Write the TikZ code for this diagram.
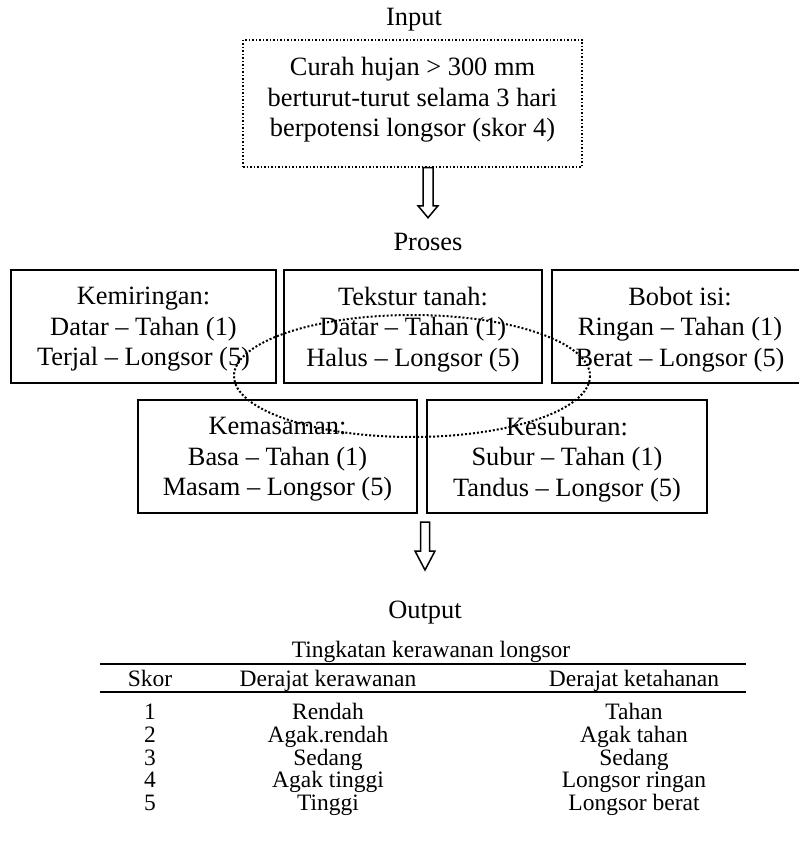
\documentclass[tikz,border=0pt]{standalone}
\usepackage{fontspec}
\setmainfont{Liberation Serif}
\usetikzlibrary{calc}

\begin{document}
\begin{tikzpicture}[x=1pt, y=-1pt,
	font=\fontsize{26.4}{30.5}\selectfont,
	every node/.style={text depth=0pt},
	box/.style={draw, line width=2pt, inner sep=0pt, minimum height=113pt, align=center},
	dotbox/.style={draw, dotted, line width=1.5pt, inner sep=0pt},
	hollow/.style={draw, line width=1.5pt, line join=miter},
	tab/.style={font=\fontsize{23.5}{23.5}\selectfont, text height=0.7em, text depth=0pt}]
	
	\useasboundingbox (0,0) rectangle (799,845);
	
	% input
	\node (input) at (414,17) {Input};
	\node[dotbox, minimum width=339pt, minimum height=127pt] (inp) at (412.5,103.5) {};
	\node[align=center] (inptext) at (412.5,97) {Curah hujan \textgreater{} 300 mm\\berturut-turut selama 3 hari\\berpotensi longsor (skor 4)};
	
	% process
	\node (proses) at (428,242) {Proses};
	\draw[hollow] (inp.south -| proses) ++(-5,0) -- ++(0,38) -- ++(-5,0) -- ++(10,12) -- ++(10,-12) -- ++(-5,0) -- ++(0,-38) -- cycle;
	
	\node[box, minimum width=265pt] (kemiringan) at (143.5,326.5) {Kemiringan:\\Datar -- Tahan (1)\\Terjal -- Longsor (5)};
	\node[box, minimum width=258pt] (tekstur) at (413,326.5) {Tekstur tanah:\\Datar -- Tahan (1)\\Halus -- Longsor (5)};
	\node[box, minimum width=256pt] (bobot) at (680,326.5) {Bobot isi:\\Ringan -- Tahan (1)\\Berat -- Longsor (5)};
	\node[box, minimum width=279pt] (kemasaman) at (277.5,456.5) {Kemasaman:\\Basa -- Tahan (1)\\Masam -- Longsor (5)};
	\node[box, minimum width=280pt] (kesuburan) at (567,456.5) {Kesuburan:\\Subur -- Tahan (1)\\Tandus -- Longsor (5)};
	
	\draw[dotted, line width=2pt] (412,376) ellipse [x radius=178, y radius=61];
	
	% output
	\node (output) at (425,610) {Output};
	\coordinate (gap) at ($(kemasaman.south east)!.5!(kesuburan.south west)$);
	\draw[hollow] ($(gap -| output)+(0,8)$) ++(-4.5,0) -- ++(0,29) -- ++(-5.5,0) -- ++(10,19) -- ++(10,-19) -- ++(-5.5,0) -- ++(0,-29) -- cycle;
	
	% table
	\node[tab] (judul) at (431,654) {Tingkatan kerawanan longsor};
	\draw[line width=2pt] (100,664) -- (746,664);
	\node[tab] (skor) at (150,683) {Skor};
	\node[tab] (kerawanan) at (328,683) {Derajat kerawanan};
	\node[tab] (ketahanan) at (634,683) {Derajat ketahanan};
	\draw[line width=1.5pt] (100,692) -- (746,692);
	\foreach \a/\b [count=\i] in {Rendah/Tahan, Agak.rendah/Agak tahan, Sedang/Sedang, Agak tinggi/Longsor ringan, Tinggi/Longsor berat}
	{
		\node[tab] (s\i) at (150,693.25+\i*22.75) {\i};
		\node[tab] (a\i) at (328,693.25+\i*22.75) {\a};
		\node[tab] (b\i) at (634,693.25+\i*22.75) {\b};
	}
	
\end{tikzpicture}
\end{document}
